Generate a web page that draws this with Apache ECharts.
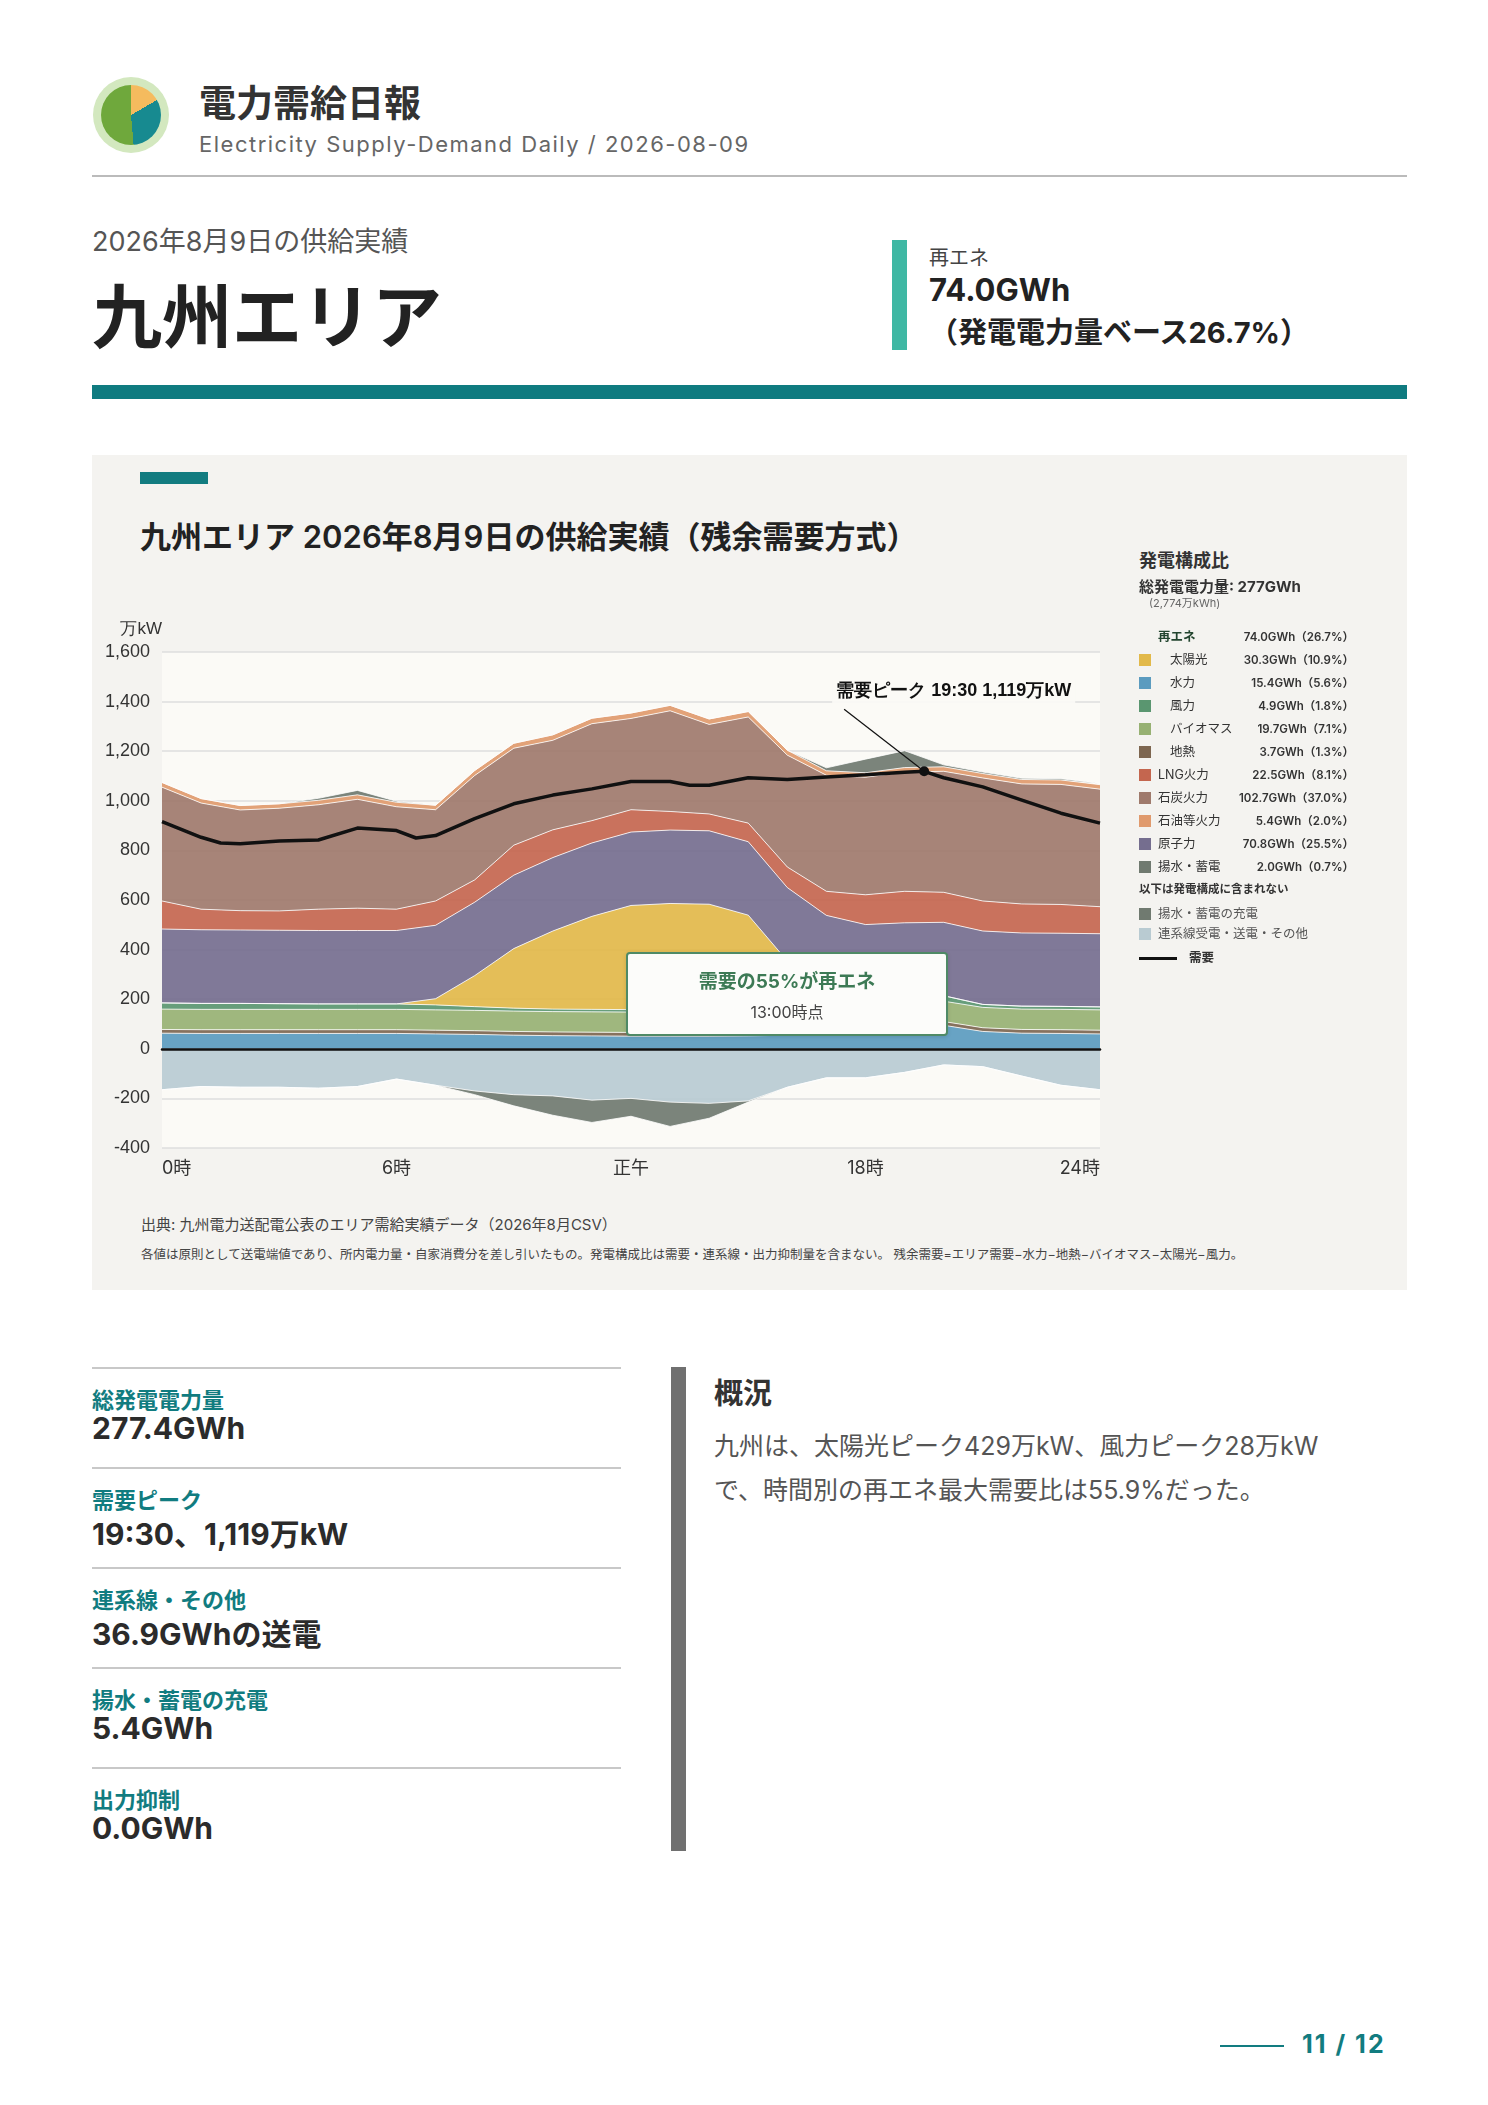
<!DOCTYPE html>
<html><head><meta charset="utf-8">
<script src="https://cdn.jsdelivr.net/npm/echarts@6/dist/echarts.min.js"></script>
<style>
body{margin:0;background:#fff;font-family:Inter,"Noto Sans CJK JP",sans-serif;color:#2b2b2b;}
#page{position:relative;width:1488px;height:2105px;overflow:hidden;}
.a{position:absolute;white-space:nowrap;}
.lg{position:absolute;left:1139px;font-size:12.5px;color:#333;width:215px;height:18px;line-height:18px}
.lg .sw{position:absolute;left:0;top:3px;width:12px;height:12px}
.lg .nm{position:absolute;left:31px}
.lg .nm.o{left:19px}
.lg .vl{position:absolute;right:0;font-weight:600;font-size:11.5px}
.kl{position:absolute;left:92px;font-size:22px;font-weight:700;color:#117c80}
.kv{position:absolute;left:92px;font-size:30px;font-weight:700;color:#2b2b2b}
.kline{position:absolute;left:92px;width:529px;height:1.5px;background:#c8c8c8}
#box{position:absolute;left:626px;top:952px;width:318px;height:80px;background:#fcfcfa;border:2px solid #4f8a66;border-radius:4px;box-shadow:0 1px 4px rgba(0,0,0,0.12);text-align:center}
</style></head><body><div id="page">
<div class="a" style="left:93px;top:77px;width:76px;height:76px;border-radius:50%;background:#d3e8bf"></div>
<div class="a" style="left:101px;top:85px;width:60px;height:60px;border-radius:50%;background:conic-gradient(#f5bb5e 0deg 60deg,#178a90 60deg 175deg,#6fa83c 175deg 360deg)"></div>
<div class="a" style="left:199px;top:74px;font-size:37px;font-weight:700;color:#333">電力需給日報</div>
<div class="a" style="left:199px;top:131px;font-size:22px;color:#666;letter-spacing:1.5px">Electricity Supply-Demand Daily / 2026-08-09</div>
<div class="a" style="left:92px;top:175px;width:1315px;height:1.5px;background:#bbb"></div>
<div class="a" style="left:92px;top:220px;font-size:27px;color:#555">2026年8月9日の供給実績</div>
<div class="a" style="left:92px;top:262px;font-size:70px;font-weight:700;color:#222">九州エリア</div>
<div class="a" style="left:892px;top:240px;width:15px;height:110px;background:#3fb8a4"></div>
<div class="a" style="left:929px;top:242px;font-size:20px;color:#444">再エネ</div>
<div class="a" style="left:929px;top:271px;font-size:31px;font-weight:700;color:#222">74.0GWh</div>
<div class="a" style="left:929px;top:309px;font-size:29px;font-weight:700;color:#222">（発電電力量ベース26.7%）</div>
<div class="a" style="left:92px;top:385px;width:1315px;height:14px;background:#0f7b80"></div>

<div class="a" style="left:92px;top:455px;width:1315px;height:835px;background:#f4f3f0"></div>
<div class="a" style="left:140px;top:472px;width:68px;height:12px;background:#127c80"></div>
<div class="a" style="left:140px;top:512px;font-size:31px;font-weight:600;color:#222">九州エリア 2026年8月9日の供給実績（残余需要方式）</div>
<div id="chart" class="a" style="left:92px;top:597px;width:1050px;height:610px"></div>
<div id="box"><div style="margin-top:12px;font-size:19px;font-weight:700;color:#3d7a55">需要の55%が再エネ</div><div style="margin-top:6px;font-size:16px;color:#444">13:00時点</div></div>
<div class="a" style="left:141px;top:1213px;font-size:15px;color:#444">出典: 九州電力送配電公表のエリア需給実績データ（2026年8月CSV）</div>
<div class="a" style="left:141px;top:1244px;font-size:12.5px;color:#444">各値は原則として送電端値であり、所内電力量・自家消費分を差し引いたもの。発電構成比は需要・連系線・出力抑制量を含まない。 残余需要=エリア需要−水力−地熱−バイオマス−太陽光−風力。</div>

<div class="a" style="left:1139px;top:546px;font-size:18px;font-weight:700;color:#333">発電構成比</div>
<div class="a" style="left:1139px;top:575px;font-size:15px;font-weight:700;color:#333">総発電電力量: 277GWh</div>
<div class="a" style="left:1149px;top:594px;font-size:11px;color:#666">(2,774万kWh)</div>
<div id="legend"></div>

<div class="kline" style="top:1367px"></div><div class="kl" style="top:1382px">総発電電力量</div><div class="kv" style="top:1410px">277.4GWh</div>
<div class="kline" style="top:1467px"></div><div class="kl" style="top:1482px">需要ピーク</div><div class="kv" style="top:1510px">19:30、1,119万kW</div>
<div class="kline" style="top:1567px"></div><div class="kl" style="top:1582px">連系線・その他</div><div class="kv" style="top:1610px">36.9GWhの送電</div>
<div class="kline" style="top:1667px"></div><div class="kl" style="top:1682px">揚水・蓄電の充電</div><div class="kv" style="top:1710px">5.4GWh</div>
<div class="kline" style="top:1767px"></div><div class="kl" style="top:1782px">出力抑制</div><div class="kv" style="top:1810px">0.0GWh</div>
<div class="a" style="left:671px;top:1367px;width:15px;height:484px;background:#707070"></div>
<div class="a" style="left:714px;top:1370px;font-size:29px;font-weight:700;color:#333">概況</div>
<div class="a" style="left:714px;top:1424px;font-size:25px;color:#555;line-height:44px">九州は、太陽光ピーク429万kW、風力ピーク28万kW<br>で、時間別の再エネ最大需要比は55.9%だった。</div>
<div class="a" style="left:1220px;top:2045px;width:64px;height:2px;background:#127c80"></div>
<div class="a" style="left:1302px;top:2029px;font-size:25px;font-weight:700;color:#127c80;letter-spacing:2px">11 / 12</div>
</div>
<script>
var hours=[0,1,2,3,4,5,6,7,8,9,10,11,12,13,14,15,16,17,18,19,20,21,22,23,24];
var hydro=[63,62,62,62,62,62,62,60,58,55,53,52,51,51,51,52,55,65,80,90,95,70,63,62,60];
var geo=[15,15,15,15,15,15,15,15,15,15,15,15,15,15,15,15,15,15,15,15,15,15,15,15,15];
var bio=[82,82,82,82,82,82,82,82,82,82,82,82,82,82,82,82,82,82,82,82,82,82,82,82,82];
var wind=[25,24,24,23,22,22,22,20,15,12,10,10,10,10,10,10,12,15,20,25,22,12,12,12,12];
var solar=[0,0,0,0,0,0,0,25,125,240,315,375,420,428,425,380,190,65,8,0,0,0,0,0,0];
var nuclear=[298,297,296,296,296,296,296,296,296,296,296,296,296,296,296,296,296,296,296,296,296,296,295,295,295];
var lng=[113,83,78,78,86,90,86,98,90,121,112,90,90,75,68,75,83,97,120,127,121,121,117,116,109];
var coal=[459,428,406,414,421,439,413,368,421,391,361,391,368,406,361,428,451,468,474,481,488,496,484,484,474];
var oil=[19,18,18,18,18,18,18,18,20,20,22,22,22,22,22,22,20,18,18,18,18,18,18,18,18];
var pumpGen=[0,0,0,0,8,18,4,0,0,0,0,0,0,0,0,0,0,12,55,68,8,6,5,5,5];
var interconnect=[-165,-152,-155,-155,-159,-152,-122,-147,-170,-185,-190,-207,-200,-215,-220,-210,-155,-117,-117,-95,-65,-72,-110,-147,-165];
var charge=[0,0,0,0,0,0,0,0,-15,-45,-78,-90,-72,-98,-60,-5,0,0,0,0,0,0,0,0,0];
var demandHours=[0,1,1.5,2,3,4,5,6,6.5,7,8,9,10,11,12,13,13.5,14,15,16,17,18,19,19.5,20,21,22,23,24];
var demand=[916,853,830,827,838,842,890,880,850,860,928,988,1023,1048,1078,1078,1063,1063,1093,1086,1096,1105,1115,1119,1093,1056,1003,950,910];
var yTicks=[-400,-200,0,200,400,600,800,1000,1200,1400,1600];
var xTickHours=[0,6,12,18,24];
var xTickLabels={0:'0時',6:'6時',12:'正午',18:'18時',24:'24時'};
var legendRows=[
 ['再エネ','74.0GWh（26.7%）',null,'h'],['太陽光','30.3GWh（10.9%）','#e2b94a','i'],['水力','15.4GWh（5.6%）','#5b9bbf','i'],
 ['風力','4.9GWh（1.8%）','#5a9670','i'],['バイオマス','19.7GWh（7.1%）','#97b173','i'],['地熱','3.7GWh（1.3%）','#7d6650','i'],
 ['LNG火力','22.5GWh（8.1%）','#c4664f','o'],['石炭火力','102.7GWh（37.0%）','#9f7a6c','o'],['石油等火力','5.4GWh（2.0%）','#e09a6d','o'],
 ['原子力','70.8GWh（25.5%）','#756e8f','o'],['揚水・蓄電','2.0GWh（0.7%）','#707a70','o']];
var lh='',ty=628;
legendRows.forEach(function(r){
 if(r[3]==='h') lh+='<div class="lg" style="top:'+ty+'px"><span class="nm" style="left:19px;font-weight:700;color:#23452f">'+r[0]+'</span><span class="vl">'+r[1]+'</span></div>';
 else lh+='<div class="lg" style="top:'+ty+'px"><span class="sw" style="background:'+r[2]+'"></span><span class="nm'+(r[3]==='o'?' o':'')+'">'+r[0]+'</span><span class="vl">'+r[1]+'</span></div>';
 ty+=23;});
lh+='<div class="lg" style="top:880px;font-weight:700;font-size:11.5px">以下は発電構成に含まれない</div>';
lh+='<div class="lg" style="top:905px"><span class="sw" style="background:#707a70"></span><span class="nm o" style="color:#555">揚水・蓄電の充電</span></div>';
lh+='<div class="lg" style="top:925px"><span class="sw" style="background:#b9cbd2"></span><span class="nm o" style="color:#555">連系線受電・送電・その他</span></div>';
lh+='<div class="lg" style="top:949px"><span style="position:absolute;left:0;top:8px;width:38px;height:3px;background:#111"></span><span class="nm" style="left:50px;font-weight:700">需要</span></div>';
document.getElementById('legend').innerHTML=lh;

var H=3600000;
function pair(arr){return hours.map(function(h,i){return [h*H,arr[i]];});}
function area(name,arr,color){
 return {name:name,type:'line',stack:'a',data:pair(arr),symbol:'none',smooth:false,
  lineStyle:{width:1,color:'rgba(255,255,255,0.8)'},areaStyle:{color:color,opacity:0.92},itemStyle:{color:color},z:2};
}
var chart=echarts.init(document.getElementById('chart'));
var option={
 animation:false,useUTC:true,
 grid:{left:70,top:55,width:938,height:496},
 xAxis:{type:'time',min:0,max:24*H,
  axisLine:{onZero:true,lineStyle:{color:'#111',width:2.5}},axisTick:{show:false},
  splitLine:{show:false},axisLabel:{show:false},z:5},
 yAxis:{type:'value',min:yTicks[0],max:yTicks[yTicks.length-1],interval:200,
  name:'万kW',nameLocation:'end',nameGap:14,nameTextStyle:{align:'right',color:'#333',fontSize:17},
  axisLine:{show:false},axisTick:{show:false},
  splitLine:{lineStyle:{color:'#dedede',width:1.5}},
  splitArea:{show:true,areaStyle:{color:['#fbfaf6','#fbfaf6']}},
  axisLabel:{color:'#333',fontSize:18,margin:12,formatter:function(v){return v.toLocaleString('en-US');}}},
 series:[
  area('水力',hydro,'#5b9bbf'),area('地熱',geo,'#7d6650'),area('バイオマス',bio,'#97b173'),area('風力',wind,'#5a9670'),
  area('太陽光',solar,'#e2b94a'),area('原子力',nuclear,'#756e8f'),area('LNG火力',lng,'#c4664f'),area('石炭火力',coal,'#9f7a6c'),
  area('石油等火力',oil,'#e09a6d'),area('揚水・蓄電',pumpGen,'#707a70'),
  area('連系線',interconnect,'#b9cbd2'),area('充電',charge,'#707a70'),
  {name:'需要',type:'line',data:demandHours.map(function(h,i){return [h*H,demand[i]];}),symbol:'none',
   lineStyle:{color:'#111',width:3.5},z:4,
   markPoint:{symbol:'circle',symbolSize:10,itemStyle:{color:'#111'},label:{show:false},data:[{coord:[19.5*H,1119]}]}}
 ]
};
chart.setOption(option);
var p=chart.convertToPixel({xAxisIndex:0,yAxisIndex:0},[19.5*H,1119]);
var gfx=[
 {type:'line',shape:{x1:p[0]-80,y1:p[1]-62,x2:p[0],y2:p[1]},style:{stroke:'#111',lineWidth:1.2},z:100},
 {type:'text',left:p[0]-92,top:p[1]-92,style:{text:'需要ピーク 19:30 1,119万kW',fontSize:18,fontWeight:'bold',fill:'#111',
   backgroundColor:'rgba(251,250,246,0.9)',padding:[3,4]},z:101}];
xTickHours.forEach(function(h,i){
 var q=chart.convertToPixel({xAxisIndex:0,yAxisIndex:0},[h*H,-400]);
 gfx.push({type:'text',x:q[0],y:q[1]+12,style:{text:xTickLabels[h],fontSize:18,fill:'#333',
  align:i===0?'left':(i===xTickHours.length-1?'right':'center'),verticalAlign:'top',fontFamily:'Inter,"Noto Sans CJK JP"'},z:50});
});
chart.setOption({graphic:gfx});
</script></body></html>
